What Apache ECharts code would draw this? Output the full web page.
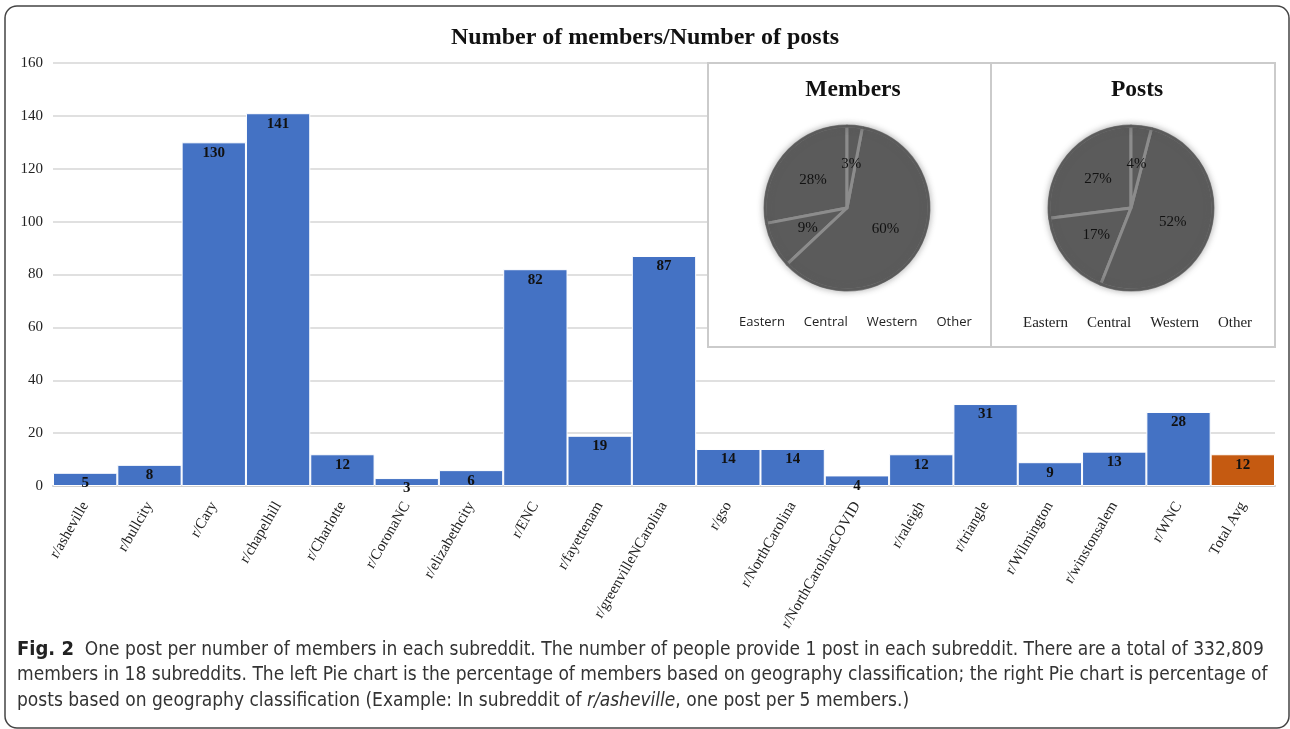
<!DOCTYPE html>
<html>
<head>
<meta charset="utf-8">
<script src="https://cdn.jsdelivr.net/npm/echarts@6/dist/echarts.min.js"></script>
<style>
html,body{margin:0;padding:0;background:#fff;}
#chart{width:1290px;height:729px;}
</style>
</head>
<body>
<div id="chart"></div>
<script>
const chartTitle = 'Number of members/Number of posts';
const categories = ['r/asheville','r/bullcity','r/Cary','r/chapelhill','r/Charlotte','r/CoronaNC','r/elizabethcity','r/ENC','r/fayettenam','r/greenvilleNCarolina','r/gso','r/NorthCarolina','r/NorthCarolinaCOVID','r/raleigh','r/triangle','r/Wilmington','r/winstonsalem','r/WNC','Total Avg'];
const values = [5, 8, 130, 141, 12, 3, 6, 82, 19, 87, 14, 14, 4, 12, 31, 9, 13, 28, 12];
const yMin = 0, yMax = 160, yStep = 20;
const regions = ['Eastern', 'Central', 'Western', 'Other'];
const membersPct = [28, 9, 60, 3];
const postsPct = [27, 17, 52, 4];
const pieTitles = ['Members', 'Posts'];
const captionLines = [
  '{b|Fig. 2}  One post per number of members in each subreddit. The number of people provide 1 post in each subreddit. There are a total of 332,809',
  'members in 18 subreddits. The left Pie chart is the percentage of members based on geography classification; the right Pie chart is percentage of',
  'posts based on geography classification (Example: In subreddit of {i|r/asheville}, one post per 5 members.)'
];

const SERIF = '"Liberation Serif", "Times New Roman", serif';
const CAPFONT = '"Liberation Sans Narrow", "DejaVu Sans Condensed", "Liberation Sans", sans-serif';
const blue = '#4472C4', orange = '#C55A11';
const pieGray = '#5b5b5b';

const barData = values.map((v, i) => ({
  value: v,
  itemStyle: { color: i === values.length - 1 ? orange : blue }
}));

function pieSeries(name, pct, cx) {
  return {
    type: 'pie', name: name, z: 10,
    center: [cx, 208], radius: 82,
    startAngle: 90, clockwise: false,
    animation: false,
    data: regions.map((r, i) => ({ name: r, value: pct[i] })),
    itemStyle: { color: pieGray, borderColor: '#8c8c8c', borderWidth: 3 },
    label: { show: true, position: 'inside', formatter: '{c}%', color: '#111',
      fontFamily: SERIF, fontSize: 15 },
    labelLine: { show: false },
    emphasis: { scale: false }
  };
}
// soft outer edge of each pie (same data, drawn as a thin rim)
function pieRim(name, pct, cx) {
  return {
    type: 'pie', name: name + ' rim', z: 11, silent: true,
    center: [cx, 208], radius: [80.5, 83],
    startAngle: 90, clockwise: false,
    animation: false,
    data: regions.map((r, i) => ({ name: r, value: pct[i] })),
    itemStyle: { color: pieGray, borderWidth: 0,
      shadowBlur: 6, shadowColor: 'rgba(91,91,91,0.9)' },
    label: { show: false }, labelLine: { show: false },
    emphasis: { disabled: true }
  };
}

const graphics = [
  { type: 'rect', z: 0, shape: { x: 5, y: 6, width: 1284, height: 722, r: 12 },
    style: { fill: 'none', stroke: '#444', lineWidth: 1.5 } },
  { type: 'rect', z: 3, shape: { x: 708, y: 63, width: 283, height: 284 },
    style: { fill: '#fff', stroke: '#cbcbcb', lineWidth: 2 } },
  { type: 'rect', z: 3, shape: { x: 991, y: 63, width: 284, height: 284 },
    style: { fill: '#fff', stroke: '#cbcbcb', lineWidth: 2 } }
];
captionLines.forEach((t, i) => {
  graphics.push({
    type: 'text', z: 5, left: 17, top: 640 + i * 26,
    style: {
      text: t, fill: '#333', font: '19px ' + CAPFONT,
      rich: {
        b: { font: 'bold 20px ' + CAPFONT, fill: '#222' },
        i: { font: 'italic 19px ' + CAPFONT, fill: '#333' }
      }
    }
  });
});

const option = {
  backgroundColor: '#fff',
  animation: false,
  title: [
    { text: chartTitle, left: 'center', top: 21,
      textStyle: { fontFamily: SERIF, fontWeight: 'bold', fontSize: 24, color: '#111' } },
    { text: pieTitles[0], left: 848, textAlign: 'center', top: 73, z: 12,
      textStyle: { fontFamily: SERIF, fontWeight: 'bold', fontSize: 23.5, color: '#111' } },
    { text: pieTitles[1], left: 1132, textAlign: 'center', top: 73, z: 12,
      textStyle: { fontFamily: SERIF, fontWeight: 'bold', fontSize: 23.5, color: '#111' } }
  ],
  legend: [
    { data: regions, left: 729, top: 311, icon: 'none', itemWidth: 0, itemHeight: 0,
      itemGap: 14, selectedMode: false, z: 12,
      textStyle: { fontFamily: '"Open Sans", sans-serif', fontSize: 13, color: '#222' } },
    { data: regions, left: 1013, top: 311, icon: 'none', itemWidth: 0, itemHeight: 0,
      itemGap: 14, selectedMode: false, z: 12,
      textStyle: { fontFamily: SERIF, fontSize: 15, color: '#222' } }
  ],
  grid: { left: 53, right: 15, top: 63, bottom: 243 },
  xAxis: {
    type: 'category', data: categories,
    axisLine: { lineStyle: { color: '#cfcfcf', width: 2 } },
    axisTick: { show: false },
    axisLabel: { interval: 0, rotate: 60, margin: 17,
      fontFamily: SERIF, fontSize: 15, color: '#222' }
  },
  yAxis: {
    type: 'value', min: yMin, max: yMax, interval: yStep,
    axisLine: { show: false }, axisTick: { show: false },
    splitLine: { lineStyle: { color: '#d6d6d6', width: 1.5 } },
    axisLabel: { margin: 10, fontFamily: SERIF, fontSize: 15, color: '#222' }
  },
  series: [
    {
      type: 'bar', data: barData, barCategoryGap: 0, z: 2,
      itemStyle: { borderColor: '#fff', borderWidth: 1 },
      label: { show: true, position: 'insideTop', distance: 3, color: '#111',
        fontFamily: SERIF, fontWeight: 'bold', fontSize: 15 }
    },
    pieSeries(pieTitles[0], membersPct, 847),
    pieRim(pieTitles[0], membersPct, 847),
    pieSeries(pieTitles[1], postsPct, 1131),
    pieRim(pieTitles[1], postsPct, 1131)
  ],
  graphic: graphics
};

const chart = echarts.init(document.getElementById('chart'), null, { renderer: 'canvas' });
chart.setOption(option);
</script>
</body>
</html>
